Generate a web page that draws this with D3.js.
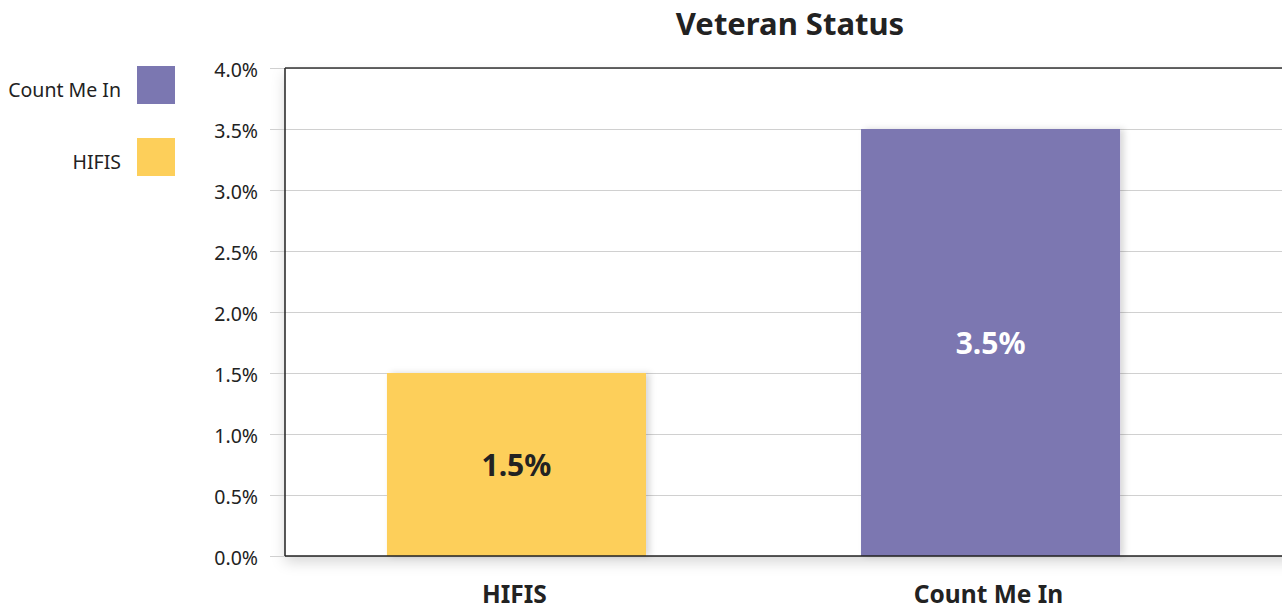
<!DOCTYPE html>
<html><head><meta charset="utf-8">
<script src="https://cdn.jsdelivr.net/npm/d3@7"></script>
<style>
body{margin:0;background:#fff;font-family:"Noto Sans",sans-serif;}
svg{display:block;}
</style></head>
<body>
<svg id="c" width="1282" height="611"></svg>
<script>
const title = "Veteran Status";
const categories = ["HIFIS", "Count Me In"];
const values = [1.5, 3.5];
const colors = ["#fdcf5a", "#7b77b1"];
const labelColors = ["#222222", "#ffffff"];
const legendItems = ["Count Me In", "HIFIS"];
const legendColors = ["#7b77b1", "#fdcf5a"];
const yTicks = [0, 0.5, 1, 1.5, 2, 2.5, 3, 3.5, 4];

(function(){
const svg = d3.select("#c");
const defs = svg.append("defs");
const f = defs.append("filter").attr("id","sh").attr("x","-10%").attr("y","-10%").attr("width","120%").attr("height","130%");
f.append("feDropShadow").attr("dx",0).attr("dy",6).attr("stdDeviation",7).attr("flood-color","#000").attr("flood-opacity",0.16);
const fb = defs.append("filter").attr("id","bsh").attr("x","-10%").attr("y","-10%").attr("width","130%").attr("height","120%");
fb.append("feDropShadow").attr("dx",4).attr("dy",0).attr("stdDeviation",3).attr("flood-color","#000").attr("flood-opacity",0.15);

const pl = 285, pt = 68, pb = 556, pr = 1300;
const y = d3.scaleLinear().domain([0, 4]).range([pb, pt]);
const x = d3.scaleBand().domain(categories).range([pl, 1222]).paddingInner(0.4536).paddingOuter(0.215);

svg.append("rect").attr("x", pl).attr("y", pt).attr("width", pr-pl).attr("height", pb-pt)
  .attr("fill","#fff").attr("filter","url(#sh)");

const yAxis = d3.axisLeft(y).tickValues(yTicks).tickFormat(d => d.toFixed(1) + "%").tickSize(0).tickPadding(12);
const ga = svg.append("g").attr("transform", `translate(${pl - 15},0)`).call(yAxis);
ga.select(".domain").remove();
ga.selectAll(".tick line").attr("stroke","#d0d0d0").attr("stroke-width",1).attr("x1",0).attr("x2", pr - pl + 15);
ga.selectAll(".tick text").attr("font-size",19.5).attr("fill","#222").attr("font-family","Noto Sans").attr("dy","0.45em");

svg.append("g").selectAll("rect").data(categories).join("rect")
  .attr("x", d => x(d)).attr("width", x.bandwidth())
  .attr("y", (d,i) => y(values[i])).attr("height", (d,i) => y(0) - y(values[i]))
  .attr("fill", (d,i) => colors[i]).attr("filter","url(#bsh)");

svg.append("line").attr("x1",pl).attr("x2",pl).attr("y1",pt).attr("y2",pb).attr("stroke","#222").attr("stroke-width",1.5);
svg.append("line").attr("x1",pl).attr("x2",pr).attr("y1",pt).attr("y2",pt).attr("stroke","#333").attr("stroke-width",1.5);
svg.append("line").attr("x1",pl).attr("x2",pr).attr("y1",pb).attr("y2",pb).attr("stroke","#222").attr("stroke-width",1.5);

svg.append("g").selectAll("text").data(categories).join("text")
  .attr("x", d => x(d) + x.bandwidth()/2)
  .attr("y", (d,i) => y(values[i]/2))
  .attr("text-anchor","middle").attr("dominant-baseline","central")
  .attr("font-size",30).attr("font-weight","bold").attr("fill",(d,i)=>labelColors[i])
  .text((d,i) => values[i].toFixed(1) + "%");

svg.append("g").selectAll("text").data(categories).join("text")
  .attr("x", d => x(d) + x.bandwidth()/2 - 2).attr("y", 603)
  .attr("text-anchor","middle").attr("font-size",24.5).attr("font-weight","bold").attr("fill","#222")
  .text(d => d);

svg.append("text").attr("x",790).attr("y",35).attr("text-anchor","middle")
  .attr("font-size",31).attr("font-weight","bold").attr("fill","#222").text(title);

const lg = svg.append("g").selectAll("g").data(legendItems).join("g")
  .attr("transform",(d,i)=>`translate(0,${66 + i*72})`);
lg.append("rect").attr("x",137).attr("y",0).attr("width",38).attr("height",38).attr("fill",(d,i)=>legendColors[i]);
lg.append("text").attr("x",121).attr("y",23).attr("text-anchor","end").attr("dominant-baseline","central")
  .attr("font-size",19.5).attr("fill","#222").text(d=>d);
})();
</script>
</body></html>
